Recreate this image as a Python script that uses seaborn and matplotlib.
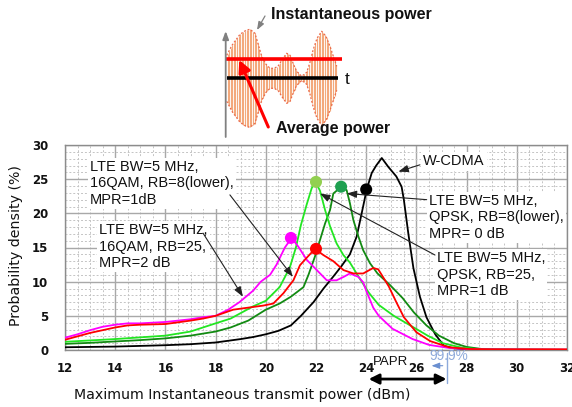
import numpy as np
import pandas as pd
import matplotlib
matplotlib.use("Agg")
import matplotlib.pyplot as plt
import seaborn as sns

# ---------------- data ----------------
wcdma_x = [12, 13, 14, 15, 16, 17, 18, 18.5, 19, 19.5, 20, 20.5, 21, 21.4, 21.9, 22.3, 22.7, 23.0,
           23.35, 23.62, 23.82, 24.02, 24.22, 24.4, 24.62, 24.88, 25.2, 25.41, 25.5, 25.68, 25.88,
           26.14, 26.4, 26.75, 27.1, 27.5, 28, 29, 30, 32]
wcdma_y = [0.4, 0.45, 0.5, 0.6, 0.7, 0.85, 1.1, 1.35, 1.6, 1.9, 2.3, 2.8, 3.6, 5.0, 7.0, 9.0, 10.8, 12.2,
           14.0, 16.6, 20.0, 23.5, 25.9, 27.0, 28.1, 26.8, 25.4, 23.9, 22.0, 17.0, 12.0,
           7.8, 4.8, 2.3, 0.6, 0.25, 0.1, 0.05, 0.03, 0.02]

qpsk8_x = [12, 13, 14, 15, 16, 17, 18, 18.6, 19.3, 20.0, 20.55, 21.0, 21.5, 21.7, 21.96, 22.16, 22.36,
           22.56, 22.69, 22.85, 22.98, 23.22, 23.35, 23.49, 23.69, 23.88, 24.15, 24.45, 24.95, 25.45,
           25.9, 26.4, 26.9, 27.5, 28.0, 28.6, 29.5, 32]
qpsk8_y = [0.9, 1.05, 1.25, 1.45, 1.7, 2.1, 2.7, 3.3, 4.3, 5.9, 6.8, 7.8, 9.2, 11.0, 13.7, 16.1, 18.5,
           20.5, 22.9, 23.4, 23.9, 23.4, 21.5, 19.0, 16.6, 14.6, 12.7, 11.2, 9.5, 7.6,
           5.5, 3.6, 2.1, 1.0, 0.45, 0.15, 0.05, 0.02]

qpsk25_x = [12, 13, 14, 15, 16, 17, 18, 18.6, 19.0, 19.5, 20.0, 20.55, 20.95, 21.2, 21.4, 21.63, 21.83,
            21.98, 22.16, 22.36, 22.56, 22.82, 23.09, 23.35, 23.7, 24.1, 24.5, 25.1, 25.8, 26.45,
            27.05, 27.8, 28.5, 32]
qpsk25_y = [1.2, 1.4, 1.6, 1.85, 2.1, 2.7, 3.9, 4.6, 5.4, 6.4, 7.2, 9.2, 12.0, 15.0, 18.3, 21.3, 23.7,
            24.6, 23.3, 20.5, 18.1, 15.6, 13.9, 12.8, 10.7, 8.4, 6.6, 5.0, 3.5, 2.1,
            1.0, 0.35, 0.1, 0.02]

qam25_x = [12, 12.5, 13, 13.5, 14, 14.5, 15, 15.5, 16, 16.5, 17, 17.5, 18, 18.5, 18.95, 19.5, 19.8,
           20.17, 20.43, 20.76, 21.03, 21.3, 21.63, 22.03, 22.43, 22.82, 23.1, 23.35, 23.69, 23.88,
           24.02, 24.28, 24.5, 25.05, 25.85, 26.5, 27.3, 28.2, 32]
qam25_y = [1.8, 2.3, 2.9, 3.4, 3.7, 3.9, 3.9, 4.0, 4.1, 4.3, 4.5, 4.8, 5.0, 5.9, 7.0, 8.7, 10.0,
           11.0, 12.5, 15.0, 16.4, 15.1, 13.2, 11.7, 10.2, 10.2, 10.7, 11.2, 10.7, 9.9,
           8.5, 6.2, 5.0, 3.1, 1.6, 0.75, 0.3, 0.1, 0.05]

qam8_x = [12, 12.5, 13, 13.5, 14, 14.5, 15, 16, 17, 17.5, 18, 18.7, 19.3, 19.9, 20.3, 20.7, 21.1,
          21.36, 21.63, 21.96, 22.29, 22.69, 23.09, 23.49, 23.88, 24.28, 24.48, 24.65, 24.9, 25.2,
          25.5, 26.0, 26.55, 27.3, 28.1, 29, 30, 32]
qam8_y = [1.5, 2.0, 2.5, 2.9, 3.3, 3.6, 3.7, 3.8, 4.3, 4.6, 5.0, 5.9, 6.2, 6.5, 6.8, 8.3, 10.2,
          12.4, 13.5, 14.8, 13.9, 13.0, 11.7, 11.2, 11.2, 12.0, 11.8, 10.8, 9.3, 7.0,
          4.8, 2.6, 1.3, 0.4, 0.15, 0.1, 0.1, 0.1]

series_names = ["W-CDMA", "QPSK RB=8", "QPSK RB=25", "16QAM RB=25", "16QAM RB=8"]
line_colors = ["#000000", "#128a12", "#22e622", "#ff00ff", "#ff0000"]

marker_x = [21, 22, 22, 23, 24]
marker_y = [16.4, 14.8, 24.6, 23.9, 23.5]
marker_colors = ["#ff00ff", "#ff0000", "#92d050", "#1ea050", "#000000"]

x_ticks = [12, 14, 16, 18, 20, 22, 24, 26, 28, 30, 32]
y_ticks = [0, 5, 10, 15, 20, 25, 30]

# schematic envelope of the inset (pixel positions / half-heights)
env_x = [226.7, 232, 240, 246, 250, 255, 261.7, 266, 270, 274, 278, 283, 286.7, 290, 293.5, 296.7,
         301.7, 306.7, 310, 313, 317, 321.7, 326, 330, 334, 336.7]
env_a = [23, 33, 44, 48, 49, 45, 22, 14, 10, 10, 12, 20, 25, 23, 14, 7, 2, 6, 16, 28, 40, 47, 42, 32, 20, 12]

# ---------------- build data frame ----------------
xs = [wcdma_x, qpsk8_x, qpsk25_x, qam25_x, qam8_x]
ys = [wcdma_y, qpsk8_y, qpsk25_y, qam25_y, qam8_y]
frames = []
for name, x, y in zip(series_names, xs, ys):
    frames.append(pd.DataFrame({"x": x, "y": y, "series": name}))
df = pd.concat(frames, ignore_index=True)
mk = pd.DataFrame({"x": marker_x, "y": marker_y, "c": [str(i) for i in range(len(marker_x))]})

# ---------------- figure ----------------
sns.set_theme(style="white")
plt.rcParams["font.family"] = ["DejaVu Sans"]

W, H = 572, 407
fig = plt.figure(figsize=(W / 100, H / 100), dpi=100)
L, R, T, B = 65, 567, 145, 350
ax = fig.add_axes([L / W, 1 - B / H, (R - L) / W, (B - T) / H])

# grid
ax.set_xlim(12, 32)
ax.set_ylim(0, 30)
ax.set_xticks(x_ticks)
ax.set_yticks(y_ticks)
ax.set_xticks(np.arange(12, 32.01, 0.5), minor=True)
ax.set_yticks(np.arange(0, 30.01, 1), minor=True)
ax.grid(which="minor", color="#c4c4c4", linestyle=(0, (2, 2)), linewidth=0.7)
ax.grid(which="major", color="#a8a8a8", linestyle="-", linewidth=1.0)
ax.set_axisbelow(True)
ax.tick_params(which="both", length=0)
ax.tick_params(axis="x", pad=9)
ax.tick_params(axis="y", pad=12)
for lab in ax.get_xticklabels() + ax.get_yticklabels():
    lab.set_fontweight("bold")
    lab.set_fontsize(8.5)
    lab.set_color("#111111")
for s in ax.spines.values():
    s.set_color("#8c8c8c")
    s.set_linewidth(1.0)

sns.lineplot(data=df, x="x", y="y", hue="series", palette=dict(zip(series_names, line_colors)),
             sort=False, estimator=None, linewidth=1.3, legend=False, ax=ax, zorder=3)
sns.scatterplot(data=mk, x="x", y="y", hue="c", palette=dict(zip(mk["c"], marker_colors)),
                s=75, edgecolor="none", legend=False, ax=ax, zorder=5)

ax.set_xlabel("Maximum Instantaneous transmit power (dBm)", fontsize=10.2, color="#111111")
ax.set_ylabel("Probability density (%)", fontsize=10.2, color="#111111")
ax.xaxis.set_label_coords((242 - L) / (R - L), (B - 388) / (B - T))
ax.yaxis.set_label_coords((23 - L) / (R - L), 0.51)

# ---------------- annotations in chart ----------------
afont = dict(family=["Liberation Sans", "DejaVu Sans"], fontsize=10.5, color="#111111",
             linespacing=1.22)
box = dict(boxstyle="square,pad=0.15", fc="white", ec="none")
arr = dict(arrowstyle="-|>,head_length=0.5,head_width=0.18", color="#222222", lw=0.8,
           shrinkA=0, shrinkB=0)

ax.text(13.0, 24.4, "LTE BW=5 MHz,\n16QAM, RB=8(lower),\nMPR=1dB", ha="left", va="center",
        bbox=box, zorder=6, **afont)
ax.text(13.37, 15.1, "LTE BW=5 MHz,\n16QAM, RB=25,\nMPR=2 dB", ha="left", va="center",
        bbox=box, zorder=6, **afont)
ax.text(26.27, 27.6, "W-CDMA", ha="left", va="center", bbox=box, zorder=6, **afont)
ax.text(26.5, 19.4, "LTE BW=5 MHz,\nQPSK, RB=8(lower),\nMPR= 0 dB", ha="left", va="center",
        bbox=box, zorder=6, **afont)
ax.text(26.81, 11.0, "LTE BW=5 MHz,\nQPSK, RB=25,\nMPR=1 dB", ha="left", va="center",
        bbox=box, zorder=6, **afont)

ax.annotate("", xy=(21.08, 10.7), xytext=(18.57, 22.7), arrowprops=arr, zorder=7)
ax.annotate("", xy=(19.09, 7.8), xytext=(17.5, 17.1), arrowprops=arr, zorder=7)
ax.annotate("", xy=(25.28, 26.1), xytext=(26.14, 27.1), arrowprops=arr, zorder=7)
ax.annotate("", xy=(23.22, 22.9), xytext=(26.41, 22.0), arrowprops=arr, zorder=7)
ax.annotate("", xy=(22.16, 22.9), xytext=(26.74, 13.9), arrowprops=arr, zorder=7)

# PAPR below the axis
ax.annotate("", xy=(24.1, -4.25), xytext=(27.2, -4.25), annotation_clip=False,
            arrowprops=dict(arrowstyle="<|-|>,head_length=0.5,head_width=0.25", color="black",
                            lw=2.0, shrinkA=0, shrinkB=0))
ax.plot([27.2, 27.2], [-0.4, -4.8], color="#8eaadb", lw=1.0, clip_on=False, zorder=6)
ax.annotate("", xy=(26.6, -2.3), xytext=(27.05, -2.3), annotation_clip=False,
            arrowprops=dict(arrowstyle="-|>,head_length=0.4,head_width=0.15", color="#6a8fd0",
                            lw=0.8, shrinkA=0, shrinkB=0))
ax.text(24.95, -1.75, "PAPR", ha="center", va="center", fontsize=9.5, color="#111111",
        family=["Liberation Sans", "DejaVu Sans"], clip_on=False, zorder=6)
ax.text(27.28, -0.95, "99.9%", ha="center", va="center", fontsize=9.8, color="#8eaadb",
        family=["Liberation Sans", "DejaVu Sans"], clip_on=False, zorder=6)

# ---------------- top schematic (overlay in pixel coordinates) ----------------
ov = fig.add_axes([0, 0, 1, 1], zorder=10)
ov.set_xlim(0, W)
ov.set_ylim(H, 0)
ov.axis("off")
ov.patch.set_alpha(0)

cy = 78.3
xx = np.arange(227.5, 336.5, 1.6)
aa = np.interp(xx, env_x, env_a)
ov.vlines(xx, cy - aa, cy + aa, color="#f3a97c", lw=0.8)
ov.plot(env_x, [cy - a for a in env_a], color="#ec6a4a", lw=0.9, ls=(0, (1.5, 1.5)))
ov.plot(env_x, [cy + a for a in env_a], color="#ec6a4a", lw=0.9, ls=(0, (1.5, 1.5)))
ov.annotate("", xy=(225.7, 31), xytext=(225.7, 137),
            arrowprops=dict(arrowstyle="-|>,head_length=0.4,head_width=0.15", color="#808080",
                            lw=1.3, shrinkA=0, shrinkB=0))
ov.plot([226, 342], [59.3, 59.3], color="#ff0000", lw=2.6, solid_capstyle="butt")
ov.plot([227, 338], [cy, cy], color="#000000", lw=2.6, solid_capstyle="butt")
ov.text(345, 80, "t", ha="left", va="center", fontsize=12.5, color="#111111",
        family=["Liberation Sans", "DejaVu Sans"])
ov.text(271, 14, "Instantaneous power", ha="left", va="center", fontsize=11.5, fontweight="bold",
        color="#111111", family=["Liberation Sans", "DejaVu Sans"])
ov.text(276, 129, "Average power", ha="left", va="center", fontsize=11.5, fontweight="bold",
        color="#111111", family=["Liberation Sans", "DejaVu Sans"])
ov.annotate("", xy=(257, 30), xytext=(265, 16),
            arrowprops=dict(arrowstyle="-|>,head_length=0.4,head_width=0.15", color="#808080",
                            lw=0.9, shrinkA=0, shrinkB=0))
ov.annotate("", xy=(239.3, 60), xytext=(268.3, 127),
            arrowprops=dict(arrowstyle="-|>,head_length=0.6,head_width=0.3", color="#ff0000",
                            lw=2.2, shrinkA=0, shrinkB=0))

fig.savefig("out.png", dpi=100)
